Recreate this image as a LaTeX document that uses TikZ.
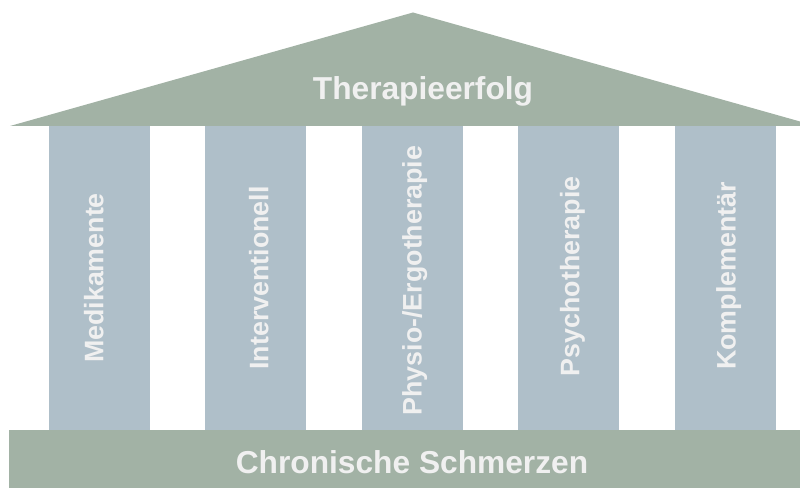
\documentclass[tikz,border=0pt]{standalone}
\usepackage{fontspec}
\setmainfont{Liberation Sans}
\definecolor{roofgreen}{HTML}{A2B2A5}
\definecolor{pillarblue}{HTML}{AFBFC9}
\definecolor{txtgray}{HTML}{F0F0F0}
\begin{document}
\begin{tikzpicture}[x=1pt,y=1pt,
  pillar/.style={fill=pillarblue, draw=none, minimum width=101pt, minimum height=304pt, inner sep=0pt, anchor=south west},
  plabel/.style={rotate=90, anchor=base, text=txtgray, font=\bfseries\fontsize{26.8}{30}\selectfont, inner sep=0pt},
  tlabel/.style={anchor=base, text=txtgray, font=\bfseries\fontsize{31.7}{36}\selectfont, inner sep=0pt}]
\useasboundingbox (0,0) rectangle (800,487);
\clip (0,0) rectangle (800,487);
% roof
\fill[roofgreen] (10,361) -- (413,474.5) -- (816,361) -- cycle;
% base
\fill[roofgreen] (9,-5) rectangle (817,57);
% pillars
\node[pillar] (p1) at (49,57) {};
\node[pillar] (p2) at (205,57) {};
\node[pillar] (p3) at (362,57) {};
\node[pillar] (p4) at (518,57) {};
\node[pillar] (p5) at (675,57) {};
% labels
\node[plabel] (l1) at (103.3,209) {Medikamente};
\node[plabel] (l2) at (268.3,209) {Interventionell};
\node[plabel] (l3) at (421.7,206.5) {Physio-/Ergotherapie};
\node[plabel] (l4) at (579.3,210.7) {Psychotherapie};
\node[plabel] (l5) at (735.7,211) {Komplementär};
\node[tlabel] (roof) at (423,387.7) {Therapieerfolg};
\node[tlabel] (base) at (412,13) {Chronische Schmerzen};
\end{tikzpicture}
\end{document}
